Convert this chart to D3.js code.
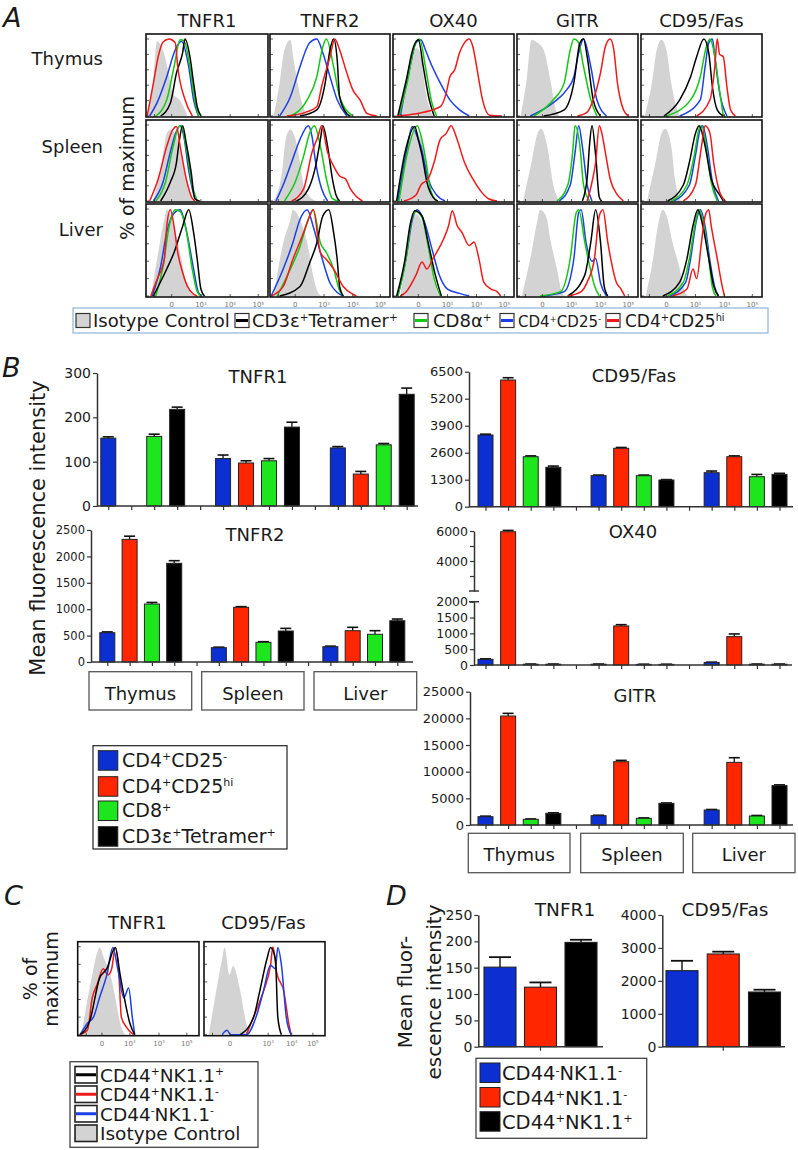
<!DOCTYPE html>
<html><head><meta charset="utf-8">
<script src="https://cdn.jsdelivr.net/npm/d3@7"></script>
<style>body{margin:0;background:#fff}svg{display:block}text{font-family:"DejaVu Sans",sans-serif;fill:#1a1a1a}</style>
</head><body><svg id="c" width="798" height="1150"></svg>
<script>
// ---------------- DATA ----------------
const histMarkers = ["TNFR1","TNFR2","OX40","GITR","CD95/Fas"];
const histTissues = ["Thymus","Spleen","Liver"];
const histTickLabels = ["0","10{3}","10{4}","10{5}"];
const legendA = ["Isotype Control","CD3ε{+}Tetramer{+}","CD8α{+}","CD4{+}CD25{-}","CD4{+}CD25{hi}"];

// histogram curves: [x % of panel width, y % of maximum]
const histThymus = [
 {iso:[[2,0],[6,50],[9,97],[14,85],[18,60],[22,30],[28,20],[34,0]],
  red:[[1,0],[6,42],[10,77],[14,96],[19,100],[24,95],[26,64],[32,21],[38,0]],
  blue:[[3,0],[9,17],[17,51],[24,86],[29,97],[35,64],[39,21],[43,0]],
  green:[[8,0],[17,21],[23,64],[28,99],[31,98],[36,64],[40,21],[43,0]],
  black:[[12,0],[20,17],[25,56],[30,82],[32,100],[36,77],[39,43],[42,12],[45,0]]},
 {iso:[[3,0],[8,43],[12,86],[17,99],[20,70],[22,51],[26,21],[31,0]],
  blue:[[8,0],[17,25],[25,64],[33,95],[39,100],[44,82],[50,51],[56,21],[64,0]],
  green:[[17,0],[31,21],[39,51],[44,90],[47,100],[53,64],[58,25],[69,0]],
  red:[[14,0],[30,5],[39,12],[43,38],[50,77],[54,100],[58,86],[64,56],[69,34],[75,21],[81,3],[89,0]],
  black:[[25,0],[39,8],[46,43],[50,86],[53,100],[56,73],[58,25],[64,3],[67,0]]},
 {iso:[[4,0],[11,47],[15,82],[20,88],[24,70],[26,43],[30,12],[33,0]],
  black:[[4,0],[11,47],[17,90],[21,99],[25,64],[30,21],[34,0]],
  green:[[5,0],[12,45],[18,92],[22,100],[27,62],[32,18],[36,0]],
  blue:[[6,0],[14,64],[19,95],[23,99],[27,85],[30,73],[39,43],[47,21],[55,8],[63,0]],
  red:[[3,0],[19,3],[39,12],[44,30],[47,51],[51,60],[55,82],[59,95],[63,100],[66,90],[70,56],[74,21],[80,1],[90,0]]},
 {iso:[[3,0],[8,47],[12,99],[17,95],[22,86],[28,43],[32,8],[35,0]],
  blue:[[11,0],[25,12],[33,21],[41,34],[47,51],[51,82],[55,100],[61,64],[66,21],[74,0]],
  green:[[14,0],[30,21],[39,43],[44,86],[47,100],[51,95],[55,64],[61,21],[66,0]],
  black:[[22,0],[39,8],[47,43],[52,95],[55,100],[58,77],[63,21],[69,0]],
  red:[[50,0],[58,5],[63,21],[69,56],[73,90],[77,100],[80,86],[83,43],[88,8],[92,0]]},
 {iso:[[3,0],[9,43],[13,86],[17,99],[21,86],[25,43],[30,8],[32,0]],
  black:[[19,0],[32,21],[41,51],[46,77],[52,100],[56,82],[59,38],[63,8],[68,0]],
  green:[[21,0],[41,21],[49,51],[54,90],[57,100],[60,86],[64,43],[68,0]],
  blue:[[32,0],[49,21],[53,64],[56,95],[59,100],[61,77],[65,30],[71,0]],
  red:[[46,0],[57,21],[61,64],[63,100],[65,80],[68,77],[71,38],[74,8],[78,0]]}
];
const histSpleen = [
 {iso:[[6,0],[13,51],[17,89],[20,94],[25,85],[30,51],[35,12],[38,0]],
  red:[[3,0],[10,29],[17,72],[22,94],[25,98],[28,72],[33,29],[38,3],[40,0]],
  blue:[[6,0],[14,25],[20,65],[25,92],[28,99],[31,85],[35,40],[40,5],[42,0]],
  green:[[8,0],[16,25],[22,70],[27,98],[29,99],[33,70],[38,20],[42,0]],
  black:[[12,0],[20,25],[25,51],[27,76],[30,99],[33,76],[37,38],[40,3],[44,0]]},
 {iso:[[3,0],[10,38],[13,81],[17,94],[22,76],[25,51],[28,21],[33,6],[38,0]],
  blue:[[5,0],[12,25],[18,51],[25,81],[32,99],[35,85],[38,51],[43,16],[48,0]],
  green:[[12,0],[22,29],[28,59],[33,89],[37,99],[42,72],[47,29],[52,3],[57,0]],
  red:[[18,0],[28,16],[35,64],[40,85],[43,99],[48,64],[53,46],[58,33],[63,29],[67,16],[72,6],[77,0]],
  black:[[22,0],[32,16],[38,46],[42,81],[44,99],[48,72],[52,29],[55,8],[58,0]]},
 {iso:[[3,0],[9,64],[16,89],[19,91],[26,64],[31,8],[36,0]],
  blue:[[4,0],[11,64],[16,98],[20,85],[23,72],[29,29],[36,8],[43,0]],
  green:[[5,0],[12,64],[20,99],[24,80],[27,55],[31,15],[36,0]],
  black:[[3,0],[10,64],[18,98],[21,80],[24,60],[28,25],[33,5],[37,0]],
  red:[[9,0],[19,8],[23,21],[29,29],[34,51],[39,81],[44,89],[48,99],[53,81],[59,51],[66,29],[73,12],[79,3],[86,0]]},
 {iso:[[5,0],[12,51],[17,89],[20,95],[25,72],[30,21],[35,0]],
  green:[[33,0],[42,21],[46,64],[48,99],[52,72],[55,21],[60,0]],
  blue:[[35,0],[44,21],[48,64],[51,99],[54,72],[58,21],[62,0]],
  black:[[54,0],[58,30],[60,75],[62,99],[65,60],[68,5],[70,0]],
  red:[[58,0],[62,25],[65,51],[68,99],[70,90],[73,64],[77,29],[83,8],[88,0]]},
 {iso:[[5,0],[12,51],[17,89],[20,95],[25,72],[28,29],[33,0]],
  black:[[22,0],[35,21],[40,51],[45,89],[48,99],[53,72],[58,29],[65,8],[68,0]],
  green:[[25,0],[38,21],[44,60],[48,95],[50,99],[54,70],[58,25],[63,0]],
  blue:[[27,0],[40,21],[45,60],[49,95],[51,99],[55,70],[59,25],[64,0]],
  red:[[35,0],[45,21],[50,72],[53,99],[57,89],[60,51],[65,12],[70,0]]}
];
const histLiver = [
 {iso:[[4,0],[9,42],[15,88],[17,99],[23,80],[28,50],[34,11],[38,2],[41,0]],
  red:[[4,0],[9,19],[15,42],[17,80],[20,99],[23,80],[26,50],[30,27],[34,11],[39,2],[42,0]],
  blue:[[5,0],[12,34],[17,73],[23,95],[28,99],[34,69],[39,31],[43,4],[46,0]],
  green:[[8,0],[14,34],[19,80],[24,99],[28,97],[33,75],[38,30],[42,5],[45,0]],
  black:[[6,0],[17,31],[23,50],[30,80],[35,99],[39,73],[42,42],[45,8],[48,0]]},
 {iso:[[3,0],[11,61],[17,88],[19,99],[25,88],[31,61],[36,23],[40,4],[43,0]],
  blue:[[1,0],[11,31],[19,61],[25,88],[31,99],[36,80],[42,50],[50,15],[56,4],[61,0]],
  red:[[1,0],[11,11],[19,42],[28,73],[33,92],[36,99],[42,50],[47,42],[53,31],[61,11],[69,2],[72,0]],
  green:[[6,0],[17,31],[25,57],[31,84],[36,99],[42,61],[47,50],[53,31],[58,6],[61,0]],
  black:[[8,0],[25,11],[33,38],[39,61],[44,92],[49,99],[53,73],[56,42],[58,11],[61,0]]},
 {iso:[[6,0],[11,50],[15,88],[19,94],[25,81],[31,43],[35,12],[38,0]],
  black:[[3,0],[10,43],[14,81],[18,98],[24,92],[29,62],[35,24],[40,0]],
  green:[[4,0],[11,45],[15,85],[19,97],[24,90],[29,58],[34,20],[39,0]],
  blue:[[4,0],[11,45],[16,88],[20,99],[26,85],[32,55],[38,25],[45,8],[55,3],[63,0]],
  red:[[6,0],[11,5],[19,24],[24,39],[28,31],[33,43],[42,66],[46,81],[49,98],[53,81],[57,73],[63,58],[67,62],[71,43],[75,16],[81,8],[86,5],[89,0]]},
 {iso:[[4,0],[11,43],[17,88],[19,99],[24,92],[28,62],[33,31],[37,5],[40,0]],
  green:[[19,0],[36,5],[44,43],[49,96],[51,99],[56,62],[60,35],[64,12],[68,0]],
  blue:[[22,0],[39,5],[47,43],[51,96],[53,99],[57,62],[62,40],[65,43],[69,15],[74,0]],
  black:[[42,0],[56,24],[61,62],[65,99],[69,62],[72,12],[75,0]],
  red:[[42,0],[53,5],[58,16],[64,43],[68,92],[71,99],[75,62],[78,39],[82,16],[86,8],[89,0]]},
 {iso:[[4,0],[10,43],[14,81],[18,99],[22,88],[26,62],[32,31],[36,5],[39,0]],
  black:[[18,0],[32,16],[38,43],[43,81],[47,99],[51,81],[56,43],[60,12],[64,0]],
  green:[[22,0],[35,16],[40,43],[45,85],[48,99],[52,81],[56,43],[59,10],[62,0]],
  blue:[[24,0],[37,16],[41,43],[46,88],[49,99],[53,80],[57,40],[61,10],[64,0]],
  red:[[26,0],[38,8],[43,31],[46,20],[50,62],[53,92],[56,99],[58,81],[63,43],[67,12],[69,0]]}
];
const histNKTMarkers = ["TNFR1","CD95/Fas"];
const histNKT = [
 {iso:[[3,0],[12,68],[16,93],[18,99],[22,86],[27,68],[31,42],[35,13],[39,0]],
  red:[[2,0],[8,5],[12,42],[16,57],[21,75],[25,68],[28,75],[31,99],[34,68],[36,20],[40,9],[46,0]],
  blue:[[2,0],[8,13],[13,20],[18,42],[24,68],[29,99],[33,75],[38,42],[42,53],[45,20],[47,0]],
  black:[[2,0],[10,16],[18,64],[24,75],[31,99],[35,68],[39,38],[43,13],[47,0]]},
 {iso:[[4,0],[10,49],[15,86],[17,99],[21,68],[24,78],[30,49],[35,13],[39,0]],
  blue:[[15,0],[19,5],[22,0],[35,0],[43,20],[49,49],[55,79],[59,75],[61,99],[64,79],[68,20],[72,0]],
  black:[[30,0],[41,20],[46,49],[52,86],[55,99],[59,86],[61,20],[64,0]],
  red:[[35,0],[43,27],[49,49],[55,79],[57,100],[60,71],[66,49],[70,13],[72,0]]}
];
const legendC = ["CD44{+}NK1.1{+}","CD44{+}NK1.1{-}","CD44{-}NK1.1{-}","Isotype Control"];

// Panel B bar data: rows = tissues, cols = [CD4+CD25-, CD4+CD25hi, CD8+, CD3e+Tetramer+]
const barTissues = ["Thymus","Spleen","Liver"];
const barSeries = ["CD4{+}CD25{-}","CD4{+}CD25{hi}","CD8{+}","CD3ε{+}Tetramer{+}"];
const tnfr1Mean = [[153,null,157,218],[107,97,102,178],[131,72,138,252]];
const tnfr1Err  = [[3,null,5,5],[8,5,5,11],[3,6,3,14]];
const tnfr1Ticks = [0,100,200,300];
const tnfr2Mean = [[555,2323,1098,1869],[271,1036,373,587],[290,593,525,782]];
const tnfr2Err  = [[15,60,30,50],[10,12,12,50],[10,64,68,32]];
const tnfr2Ticks = [0,500,1000,1500,2000,2500];
const cd95Mean = [[3452,6100,2407,1897],[1493,2812,1493,1285],[1637,2407,1444,1557]];
const cd95Err  = [[40,110,40,60],[30,40,30,20],[80,40,110,50]];
const cd95Ticks = [0,1300,2600,3900,5200,6500];
const ox40Mean = [[180,5950,25,25],[25,1234,20,20],[80,896,25,25]];
const ox40Err  = [[15,90,5,5],[5,40,5,5],[10,85,5,5]];
const ox40LowTicks = [0,500,1000,1500,2000];
const ox40HighTicks = [3000,4000,5000,6000];
const gitrMean = [[1560,20437,1060,2190],[1750,11870,1250,4060],[2810,11750,1690,7380]];
const gitrErr  = [[100,500,80,100],[80,250,80,80],[100,870,100,150]];
const gitrTicks = [0,5000,10000,15000,20000,25000];

// Panel D
const dGroups = ["CD44{-}NK1.1{-}","CD44{+}NK1.1{-}","CD44{+}NK1.1{+}"];
const dTnfr1Mean = [151,113,198];
const dTnfr1Err = [19,9,5];
const dTnfr1Ticks = [0,50,100,150,200,250];
const dCd95Mean = [2309,2816,1661];
const dCd95Err = [300,70,70];
const dCd95Ticks = [0,1000,2000,3000,4000];

// ---------------- DRAW ----------------
const svg = d3.select("#c");
const BAR = {blue:"#0b2fd0", red:"#ff2600", green:"#1ee61e", black:"#000000"};
const LINE = {red:"#ef1a1a", blue:"#1d3fe6", green:"#14c814", black:"#000000", iso:"#d3d3d3"};
const seriesKeys = ["blue","red","green","black"];
let clipN = 0;

function rich(sel, str, fs) {
  const parts = str.split(/(\{[^}]*\})/).filter(s => s.length);
  let up = false; const sh = fs * 0.33;
  parts.forEach(p => {
    if (p[0] === "{") {
      sel.append("tspan").attr("font-size", fs * 0.58).attr("dy", up ? 0 : -sh).text(p.slice(1, -1)); up = true;
    } else {
      sel.append("tspan").attr("font-size", fs).attr("dy", up ? sh : 0).text(p); up = false;
    }
  });
  return sel;
}
function txt(parent, x, y, str, fs, anchor) {
  const t = parent.append("text").attr("x", x).attr("y", y).attr("font-size", fs).attr("text-anchor", anchor || "start");
  return rich(t, str, fs);
}

function hist(x0, y0, w, h, curves, order, tickLabels, tickPos) {
  const xs = d3.scaleLinear([0, 100], [x0, x0 + w]);
  const ys = d3.scaleLinear([0, 100], [y0 + h - 1, y0 + 5]);
  const id = "cp" + (clipN++);
  svg.append("clipPath").attr("id", id).append("rect").attr("x", x0).attr("y", y0).attr("width", w).attr("height", h);
  const g = svg.append("g");
  const inner = g.append("g").attr("clip-path", `url(#${id})`);
  const area = d3.area().x(d => xs(d[0])).y0(ys(0)).y1(d => ys(d[1])).curve(d3.curveMonotoneX);
  const line = d3.line().x(d => xs(d[0])).y(d => ys(d[1])).curve(d3.curveMonotoneX);
  inner.append("path").attr("d", area(curves.iso)).attr("fill", LINE.iso);
  order.forEach(k => inner.append("path").attr("d", line(curves[k])).attr("fill", "none")
    .attr("stroke", LINE[k]).attr("stroke-width", 1.5).attr("stroke-linejoin", "round"));
  [0, 20, 40, 60, 80, 100].forEach(v => g.append("line").attr("x1", x0).attr("x2", x0 + 3)
    .attr("y1", ys(v)).attr("y2", ys(v)).attr("stroke", "#333").attr("stroke-width", 0.8));
  [7].concat(tickPos).forEach(v => g.append("line").attr("x1", xs(v)).attr("x2", xs(v))
    .attr("y1", y0 + h).attr("y2", y0 + h - 3).attr("stroke", "#333").attr("stroke-width", 0.8));
  g.append("rect").attr("x", x0).attr("y", y0).attr("width", w).attr("height", h)
    .attr("fill", "none").attr("stroke", "#111").attr("stroke-width", 1.6);
  if (tickLabels) {
    tickLabels.forEach((t, i) => {
      const tt = txt(g, xs(tickPos[i]), y0 + h + 10, t, 7, "middle");
      tt.style("fill", "#777");
    });
  }
}

// Panel labels
[["A", 3, 27], ["B", 2, 377], ["C", 4, 905], ["D", 386, 905]].forEach(([l, x, y]) =>
  svg.append("text").attr("x", x).attr("y", y).attr("font-size", 27).attr("font-style", "italic").text(l));

// Panel A
const aCols = [{x: 146, w: 122}, {x: 270, w: 120}, {x: 393, w: 121}, {x: 517, w: 121}, {x: 641, w: 121}];
const aRows = [{y: 34, h: 83}, {y: 120, h: 82}, {y: 204, h: 93}];
const aTickPos = [21, 45, 69, 92];
const rowData = [histThymus, histSpleen, histLiver];
histMarkers.forEach((m, j) => txt(svg, aCols[j].x + aCols[j].w / 2, 27, m, 18, "middle"));
const rowBaselines = [65, 153, 236];
histTissues.forEach((t, i) => txt(svg, 103, rowBaselines[i], t, 18, "end"));
rowData.forEach((row, i) => row.forEach((c, j) =>
  hist(aCols[j].x, aRows[i].y, aCols[j].w, aRows[i].h, c, ["blue", "green", "black", "red"],
    i === 2 ? histTickLabels : null, aTickPos)));
svg.append("text").attr("transform", "translate(134,168) rotate(-90)").attr("text-anchor", "middle")
  .attr("font-size", 19).text("% of maximum");

// Legend A
svg.append("rect").attr("x", 73).attr("y", 308).attr("width", 695).attr("height", 25)
  .attr("fill", "none").attr("stroke", "#8db4dc").attr("stroke-width", 1.2);
const legAPos = [{s: 76, t: 93, k: "iso", fs: 18}, {s: 235, t: 252, k: "black", fs: 18}, {s: 414, t: 433, k: "green", fs: 18},
  {s: 500, t: 518, k: "blue", fs: 15}, {s: 606, t: 625, k: "red", fs: 17}];
legendA.forEach((lab, i) => {
  const p = legAPos[i];
  svg.append("rect").attr("x", p.s).attr("y", 313.5).attr("width", 14).attr("height", 14)
    .attr("fill", p.k === "iso" ? LINE.iso : "#fff").attr("stroke", "#333").attr("stroke-width", 1.2);
  if (p.k !== "iso") svg.append("line").attr("x1", p.s + 1).attr("x2", p.s + 13).attr("y1", 320.5).attr("y2", 320.5)
    .attr("stroke", LINE[p.k]).attr("stroke-width", 3);
  txt(svg, p.t, 326.5, lab, p.fs, "start");
});

// Bar chart helper
function barChart(o) {
  const g = svg.append("g");
  const px = d3.scalePoint().domain(d3.range(14)).range([o.first, o.last]);
  o.means.forEach((row, gi) => row.forEach((m, si) => {
    if (m == null) return;
    const cx = px(gi * 5 + si);
    const e = o.errs[gi][si];
    const yt = o.yPos(m + e);
    g.append("line").attr("x1", cx).attr("x2", cx).attr("y1", o.yPos(m)).attr("y2", yt).attr("stroke", "#111").attr("stroke-width", 1.3);
    g.append("line").attr("x1", cx - 5.5).attr("x2", cx + 5.5).attr("y1", yt).attr("y2", yt).attr("stroke", "#111").attr("stroke-width", 1.6);
    g.append("rect").attr("x", cx - o.bw / 2).attr("y", o.yPos(m)).attr("width", o.bw)
      .attr("height", Math.max(0.6, o.baseY - o.yPos(m))).attr("fill", BAR[seriesKeys[si]])
      .attr("stroke", "#222").attr("stroke-width", 1);
  }));
  const xa = g.append("g").attr("transform", `translate(0,${o.baseY})`)
    .call(d3.axisBottom(px).tickSize(4).tickFormat(""));
  xa.select(".domain").remove();
  xa.selectAll("line").attr("stroke", "#333").attr("stroke-width", 1.2);
  g.append("line").attr("x1", o.axisX).attr("x2", o.axisEnd).attr("y1", o.baseY).attr("y2", o.baseY)
    .attr("stroke", "#333").attr("stroke-width", 1.5);
  return g;
}
function yAxis(x, scale, ticks, fs, fmt) {
  const a = svg.append("g").attr("transform", `translate(${x},0)`)
    .call(d3.axisLeft(scale).tickValues(ticks).tickSize(4).tickSizeOuter(0).tickPadding(2).tickFormat(fmt || (d => d)));
  a.select(".domain").attr("stroke", "#333").attr("stroke-width", 1.5);
  a.selectAll("line").attr("stroke", "#333").attr("stroke-width", 1.2);
  a.selectAll("text").attr("font-size", fs).attr("font-family", "DejaVu Sans, sans-serif").attr("fill", "#222");
  return a;
}

// TNFR1 (B)
const yT1 = d3.scaleLinear([0, 300], [506, 373]);
barChart({first: 108.3, last: 406.7, axisX: 97, axisEnd: 418, baseY: 506, yPos: yT1, means: tnfr1Mean, errs: tnfr1Err, bw: 15});
yAxis(97, yT1, tnfr1Ticks, 14);
txt(svg, 258, 383, "TNFR1", 18, "middle");

// TNFR2 (B)
const yT2 = d3.scaleLinear([0, 2500], [662, 530]);
barChart({first: 107.3, last: 397.3, axisX: 91, axisEnd: 413, baseY: 662, yPos: yT2, means: tnfr2Mean, errs: tnfr2Err, bw: 15});
yAxis(91, yT2, tnfr2Ticks, 11.5);
txt(svg, 255, 541, "TNFR2", 18, "middle");

const catLeft = [[89, 191.7], [201.7, 304], [314, 416.7]];
barTissues.forEach((t, i) => {
  svg.append("rect").attr("x", catLeft[i][0]).attr("y", 671.7).attr("width", catLeft[i][1] - catLeft[i][0]).attr("height", 38.3)
    .attr("fill", "#fff").attr("stroke", "#555").attr("stroke-width", 1.3);
  txt(svg, (catLeft[i][0] + catLeft[i][1]) / 2, 700, t, 18, "middle");
});
svg.append("text").attr("transform", "translate(45,528) rotate(-90)").attr("text-anchor", "middle")
  .attr("font-size", 21).text("Mean fluorescence intensity");

// Legend B
svg.append("rect").attr("x", 93).attr("y", 745.7).attr("width", 194).attr("height", 103.3)
  .attr("fill", "#fff").attr("stroke", "#222").attr("stroke-width", 1.2);
const legBTop = [750.7, 776.7, 801, 826.7];
barSeries.forEach((s, i) => {
  svg.append("rect").attr("x", 98.3).attr("y", legBTop[i]).attr("width", 19.5).attr("height", 19.5)
    .attr("fill", BAR[seriesKeys[i]]).attr("stroke", "#222").attr("stroke-width", 1);
  txt(svg, 122, legBTop[i] + 16, s, 19, "start");
});

// CD95/Fas (B)
const yC95 = d3.scaleLinear([0, 6500], [506.7, 371.7]);
barChart({first: 485.5, last: 779.5, axisX: 469, axisEnd: 793, baseY: 506.7, yPos: yC95, means: cd95Mean, errs: cd95Err, bw: 15});
yAxis(469, yC95, cd95Ticks, 13);
txt(svg, 634, 382, "CD95/Fas", 18, "middle");

// OX40 (B) broken axis
const yOxLow = d3.scaleLinear([0, 2000], [665, 601.7]);
const yOxHigh = d3.scaleLinear([2000, 6000], [591, 531]);
const oxPos = v => v <= 2000 ? yOxLow(v) : yOxHigh(v);
barChart({first: 485.5, last: 779.5, axisX: 474, axisEnd: 792, baseY: 665, yPos: oxPos, means: ox40Mean, errs: ox40Err, bw: 15});
yAxis(474, yOxLow, ox40LowTicks, 12.5);
yAxis(474, yOxHigh, ox40HighTicks, 12.5, d => (d === 4000 || d === 6000) ? d : "");
[591, 601.7].forEach(yy => svg.append("line").attr("x1", 469).attr("x2", 479).attr("y1", yy).attr("y2", yy)
  .attr("stroke", "#333").attr("stroke-width", 1.5));
txt(svg, 633, 538, "OX40", 18, "middle");

// GITR (B)
const yGi = d3.scaleLinear([0, 25000], [825, 691.7]);
barChart({first: 485.5, last: 779.5, axisX: 470, axisEnd: 793, baseY: 825, yPos: yGi, means: gitrMean, errs: gitrErr, bw: 15});
yAxis(470, yGi, gitrTicks, 13);
txt(svg, 635, 702, "GITR", 18, "middle");

const catRight = [[468.3, 570], [580.7, 683.3], [692.7, 795]];
barTissues.forEach((t, i) => {
  svg.append("rect").attr("x", catRight[i][0]).attr("y", 833.3).attr("width", catRight[i][1] - catRight[i][0]).attr("height", 39.4)
    .attr("fill", "#fff").attr("stroke", "#555").attr("stroke-width", 1.3);
  txt(svg, (catRight[i][0] + catRight[i][1]) / 2, 861, t, 18, "middle");
});

// Panel C
const cCols = [{x: 77.7, w: 121.3}, {x: 204, w: 121}];
const cTickPos = [[20, 43, 67, 90], [21.5, 53, 72.5, 90]];
histNKTMarkers.forEach((m, j) => {
  txt(svg, cCols[j].x + cCols[j].w / 2 - 1, 929, m, 18, "middle");
  hist(cCols[j].x, 941.7, cCols[j].w, 94, histNKT[j], ["red", "blue", "black"], histTickLabels, cTickPos[j]);
});
const cy = svg.append("text").attr("transform", "translate(0,979) rotate(-90)").attr("text-anchor", "middle").attr("font-size", 19);
cy.append("tspan").attr("x", 0).attr("y", 37).text("% of");
cy.append("tspan").attr("x", 0).attr("y", 58).text("maximum");

svg.append("rect").attr("x", 70).attr("y", 1061.7).attr("width", 188).attr("height", 85.6)
  .attr("fill", "#fff").attr("stroke", "#444").attr("stroke-width", 1.3);
const legCKeys = ["black", "red", "blue", "iso"];
legendC.forEach((lab, i) => {
  const top = 1066.5 + i * 19.5;
  svg.append("rect").attr("x", 75).attr("y", top).attr("width", 22).attr("height", 16.5)
    .attr("fill", legCKeys[i] === "iso" ? LINE.iso : "#fff").attr("stroke", "#222").attr("stroke-width", 1.6);
  if (legCKeys[i] !== "iso") svg.append("line").attr("x1", 76).attr("x2", 96).attr("y1", top + 8.25).attr("y2", top + 8.25)
    .attr("stroke", LINE[legCKeys[i]]).attr("stroke-width", 3);
  txt(svg, 100, top + 15, lab, 18.5, "start");
});

// Panel D
function dChart(axisX, axisEnd, centers, scale, means, errs, ticks) {
  const g = svg.append("g");
  const px = d3.scalePoint().domain(dGroups).range(centers);
  const keys = ["blue", "red", "black"];
  dGroups.forEach((gname, i) => {
    const cx = px(gname), m = means[i], e = errs[i];
    g.append("line").attr("x1", cx).attr("x2", cx).attr("y1", scale(m)).attr("y2", scale(m + e)).attr("stroke", "#111").attr("stroke-width", 1.4);
    g.append("line").attr("x1", cx - 11).attr("x2", cx + 11).attr("y1", scale(m + e)).attr("y2", scale(m + e)).attr("stroke", "#111").attr("stroke-width", 1.8);
    g.append("rect").attr("x", cx - 16).attr("y", scale(m)).attr("width", 32).attr("height", scale(0) - scale(m))
      .attr("fill", BAR[keys[i]]).attr("stroke", "#222").attr("stroke-width", 1.1);
  });
  g.append("line").attr("x1", axisX).attr("x2", axisEnd).attr("y1", scale(0)).attr("y2", scale(0)).attr("stroke", "#333").attr("stroke-width", 1.5);
  const mid = px(dGroups[1]);
  g.append("line").attr("x1", mid).attr("x2", mid).attr("y1", scale(0)).attr("y2", scale(0) + 4).attr("stroke", "#333").attr("stroke-width", 1.2);
  yAxis(axisX, scale, ticks, 14);
}
const yD1 = d3.scaleLinear([0, 250], [1046.7, 915]);
dChart(478.3, 603, [500, 581], yD1, dTnfr1Mean, dTnfr1Err, dTnfr1Ticks);
txt(svg, 565, 916, "TNFR1", 18.5, "middle");
const yD2 = d3.scaleLinear([0, 4000], [1046.7, 915]);
dChart(662.3, 785, [682, 764.5], yD2, dCd95Mean, dCd95Err, dCd95Ticks);
txt(svg, 725, 916, "CD95/Fas", 18.5, "middle");
const dy = svg.append("text").attr("transform", "translate(0,992) rotate(-90)").attr("text-anchor", "middle").attr("font-size", 20);
dy.append("tspan").attr("x", 0).attr("y", 412).text("Mean fluor-");
dy.append("tspan").attr("x", 0).attr("y", 441).text("escence intensity");

svg.append("rect").attr("x", 476).attr("y", 1058.3).attr("width", 170.7).attr("height", 80)
  .attr("fill", "#fff").attr("stroke", "#444").attr("stroke-width", 1.3);
const legDTop = [1063, 1087.5, 1111.7];
["blue", "red", "black"].forEach((k, i) => {
  svg.append("rect").attr("x", 480).attr("y", legDTop[i]).attr("width", 20).attr("height", 19.5)
    .attr("fill", BAR[k]).attr("stroke", "#222").attr("stroke-width", 1);
  txt(svg, 502, legDTop[i] + 17, dGroups[i], 19.5, "start");
});
</script></body></html>
